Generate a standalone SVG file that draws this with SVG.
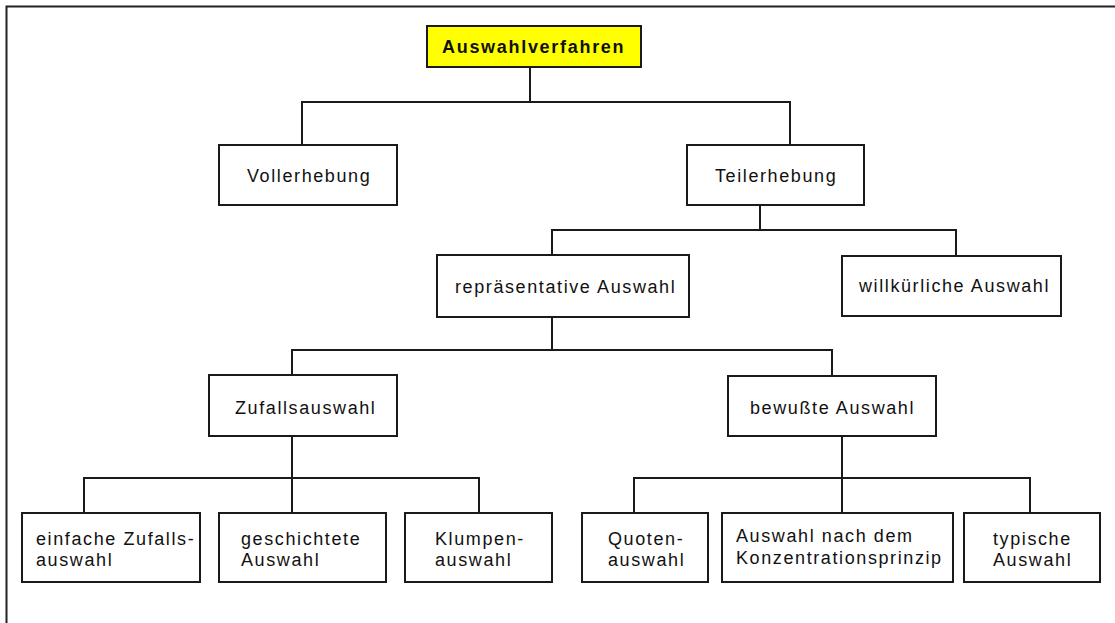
<svg xmlns="http://www.w3.org/2000/svg" width="1115" height="623" viewBox="0 0 1115 623">
  <style>
    .frame { fill: none; stroke: #222; stroke-width: 2; }
    .box { fill: #ffffff; stroke: #1a1a1a; stroke-width: 2; }
    .root { fill: #ffff00; stroke: #1a1a1a; stroke-width: 2; }
    .link { fill: none; stroke: #1a1a1a; stroke-width: 2; }
    .lbl { font-family: "Liberation Sans", Arial, sans-serif; font-size: 18px; letter-spacing: 1.6px; fill: #111; }
    .bold { font-weight: bold; letter-spacing: 1.7px; }
  </style>
  <rect width="1115" height="623" fill="#ffffff"/>
  <!-- outer frame (top and left edges) -->
  <path class="frame" d="M6.5,630 V6.5 H1120"/>

  <!-- tree connectors -->
  <g id="connectors" class="link">
    <path d="M530,67 V102 M302,145 V102 H790 V145"/>
    <path d="M760,205 V230 M552,255 V230 H956 V256"/>
    <path d="M552,317 V350 M292,375 V350 H832 V376"/>
    <path d="M292,436 V478 M84,513 V478 H479 V513 M292,478 V513"/>
    <path d="M842,436 V478 M634,513 V478 H1030 V513 M842,478 V513"/>
  </g>

  <g id="auswahlverfahren">
    <rect class="root" x="427" y="26" width="214" height="41"/>
    <text class="lbl bold" x="442" y="53">Auswahlverfahren</text>
  </g>
  <g id="vollerhebung">
    <rect class="box" x="219" y="145" width="178" height="60"/>
    <text class="lbl" x="247" y="182">Vollerhebung</text>
  </g>
  <g id="teilerhebung">
    <rect class="box" x="687" y="145" width="177" height="60"/>
    <text class="lbl" x="715" y="182">Teilerhebung</text>
  </g>
  <g id="repraesentative-auswahl">
    <rect class="box" x="437" y="255" width="252" height="62"/>
    <text class="lbl" x="455" y="293">repräsentative Auswahl</text>
  </g>
  <g id="willkuerliche-auswahl">
    <rect class="box" x="842" y="256" width="219" height="60"/>
    <text class="lbl" x="859" y="292">willkürliche Auswahl</text>
  </g>
  <g id="zufallsauswahl">
    <rect class="box" x="209" y="375" width="188" height="61"/>
    <text class="lbl" x="235" y="414">Zufallsauswahl</text>
  </g>
  <g id="bewusste-auswahl">
    <rect class="box" x="728" y="376" width="208" height="60"/>
    <text class="lbl" x="750" y="414">bewußte Auswahl</text>
  </g>
  <g id="einfache-zufallsauswahl">
    <rect class="box" x="22" y="513" width="178" height="69"/>
    <text class="lbl" x="36" y="545">einfache Zufalls-</text>
    <text class="lbl" x="36" y="566">auswahl</text>
  </g>
  <g id="geschichtete-auswahl">
    <rect class="box" x="219" y="513" width="167" height="69"/>
    <text class="lbl" x="241" y="545">geschichtete</text>
    <text class="lbl" x="241" y="566">Auswahl</text>
  </g>
  <g id="klumpenauswahl">
    <rect class="box" x="405" y="513" width="147" height="69"/>
    <text class="lbl" x="435" y="545">Klumpen-</text>
    <text class="lbl" x="435" y="566">auswahl</text>
  </g>
  <g id="quotenauswahl">
    <rect class="box" x="582" y="513" width="126" height="69"/>
    <text class="lbl" x="608" y="545">Quoten-</text>
    <text class="lbl" x="608" y="566">auswahl</text>
  </g>
  <g id="konzentrationsprinzip">
    <rect class="box" x="722" y="513" width="231" height="69"/>
    <text class="lbl" x="736" y="542">Auswahl nach dem</text>
    <text class="lbl" x="736" y="564">Konzentrationsprinzip</text>
  </g>
  <g id="typische-auswahl">
    <rect class="box" x="964" y="513" width="136" height="69"/>
    <text class="lbl" x="993" y="545">typische</text>
    <text class="lbl" x="993" y="566">Auswahl</text>
  </g>
</svg>
